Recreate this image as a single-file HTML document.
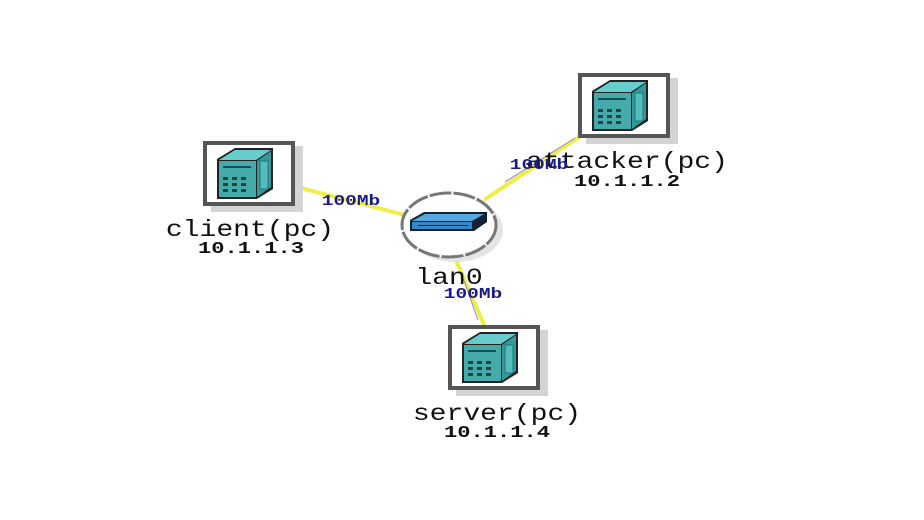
<!DOCTYPE html>
<html><head><style>body{margin:0;background:#fff}svg{display:block}</style></head><body>
<svg width="924" height="520" viewBox="0 0 924 520" xmlns="http://www.w3.org/2000/svg">
<defs>
<g id="pc">
<rect x="8" y="5" width="92" height="66" fill="#d4d4d4"/>
<rect x="2" y="2" width="88" height="61" fill="#fff" stroke="#555" stroke-width="4"/>
<polygon points="14,18 32,7 70,7 70,48 54,58 14,58" fill="#222"/>
<polygon points="16,19 32,9 68,9 53,19" fill="#6cc"/>
<rect x="16" y="20" width="37" height="36" fill="#4aa"/>
<polygon points="54,20 68,10 68,46 54,56" fill="#399"/>
<rect x="57" y="20" width="8" height="28" fill="#5bb" stroke="#277" stroke-width="1"/>
<line x1="20" y1="26" x2="48" y2="26" stroke="#133" stroke-width="1.5"/>
<g fill="#244"><rect x="20" y="36" width="5" height="3"/><rect x="29" y="36" width="5" height="3"/><rect x="38" y="36" width="5" height="3"/><rect x="20" y="42" width="5" height="3"/><rect x="29" y="42" width="5" height="3"/><rect x="38" y="42" width="5" height="3"/><rect x="20" y="48" width="5" height="3"/><rect x="29" y="48" width="5" height="3"/><rect x="38" y="48" width="5" height="3"/></g>
</g>
</defs>
<g stroke="#ee4" stroke-width="4">
<line x1="297" y1="187" x2="405" y2="215"/>
<line x1="582" y1="135" x2="484" y2="200"/>
<line x1="455" y1="258" x2="485" y2="327"/>
</g>
<g stroke="#88c" stroke-width="1">
<line x1="575" y1="138" x2="505" y2="182"/>
<line x1="462" y1="275" x2="478" y2="320"/>
</g>
<ellipse cx="455" cy="230" rx="48" ry="32" fill="#e4e4e4"/>
<ellipse cx="449" cy="225" rx="47" ry="32" fill="#fff" stroke="#777" stroke-width="3" stroke-dasharray="22 2"/>
<polygon points="410,220 424,212 487,212 487,222 474,231 410,231" fill="#123"/>
<polygon points="412,221 425,214 484,214 472,221" fill="#5ad"/>
<rect x="412" y="222" width="60" height="7" fill="#38c"/>
<g fill="#123"><rect x="418" y="225" width="50" height="1"/></g>
<use href="#pc" x="203" y="141"/>
<use href="#pc" x="578" y="73"/>
<use href="#pc" x="448" y="325"/>
<g font-family="Liberation Mono, monospace" text-anchor="middle">
<g font-size="23" fill="#111">
<text x="250" y="236" transform="translate(250 0) scale(1.22 1) translate(-250 0)">client(pc)</text>
<text x="627" y="168" transform="translate(627 0) scale(1.22 1) translate(-627 0)">attacker(pc)</text>
<text x="497" y="420" transform="translate(497 0) scale(1.22 1) translate(-497 0)">server(pc)</text>
<text x="449" y="284" transform="translate(449 0) scale(1.22 1) translate(-449 0)">lan0</text>
</g>
<g font-size="17" font-weight="bold" fill="#111">
<text x="251" y="253" transform="translate(251 0) scale(1.3 1) translate(-251 0)">10.1.1.3</text>
<text x="627" y="186" transform="translate(627 0) scale(1.3 1) translate(-627 0)">10.1.1.2</text>
<text x="497" y="437" transform="translate(497 0) scale(1.3 1) translate(-497 0)">10.1.1.4</text>
</g>
<g font-size="15" font-weight="bold" fill="#1a1a88">
<text x="351" y="205" transform="translate(351 0) scale(1.3 1) translate(-351 0)">100Mb</text>
<text x="539" y="169" transform="translate(539 0) scale(1.3 1) translate(-539 0)">100Mb</text>
<text x="473" y="298" transform="translate(473 0) scale(1.3 1) translate(-473 0)">100Mb</text>
</g>
</g>
</svg>
</body></html>
